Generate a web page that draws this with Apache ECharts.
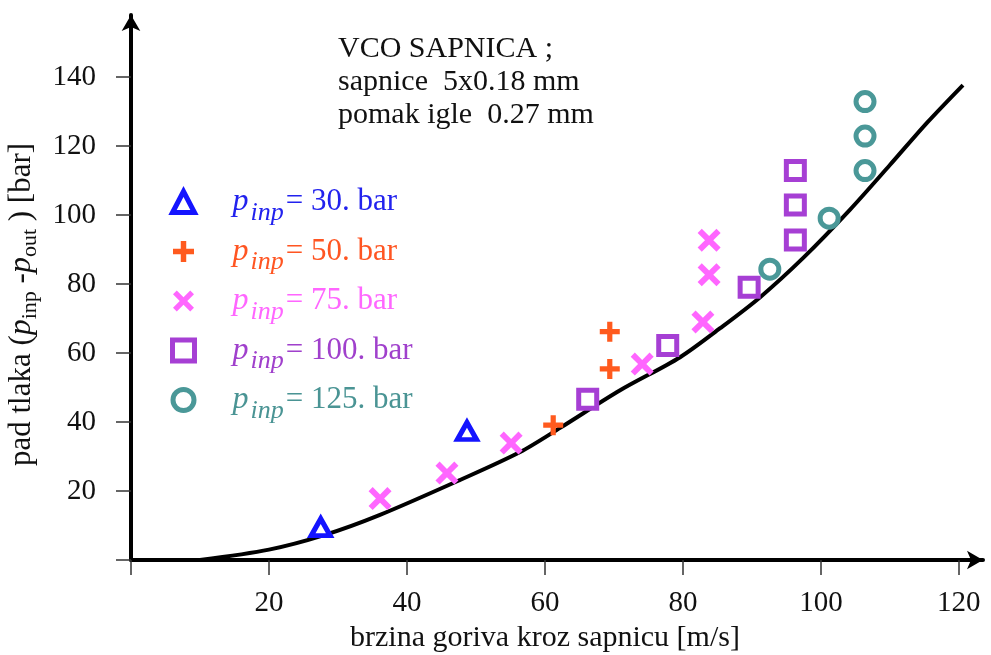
<!DOCTYPE html>
<html>
<head>
<meta charset="utf-8">
<script src="https://cdn.jsdelivr.net/npm/echarts@6/dist/echarts.min.js"></script>
<style>
html,body{margin:0;padding:0;background:#fff;}
#chart{width:991px;height:655px;}
</style>
</head>
<body>
<div id="chart"></div>
<script>
// ---- data ----
const xTickValues = [0, 20, 40, 60, 80, 100, 120];
const xLabelValues = [20, 40, 60, 80, 100, 120];
const yTickValues = [0, 20, 40, 60, 80, 100, 120, 140];
const yLabelValues = [20, 40, 60, 80, 100, 120, 140];

const seriesNames = ['30. bar', '50. bar', '75. bar', '100. bar', '125. bar'];
const p30 = [[27.5, 9.5], [48.7, 37.4]];
const p50 = [[61.2, 39.1], [69.4, 55.4], [69.4, 66.2]];
const p75 = [[36.1, 17.8], [45.8, 25.2], [55.1, 33.9], [74.1, 56.8], [82.9, 69.0], [83.8, 82.7], [83.8, 92.7]];
const p100 = [[66.2, 46.6], [77.8, 62.2], [89.6, 79.1], [96.3, 92.8], [96.3, 102.9], [96.3, 112.9]];
const p125 = [[92.6, 84.3], [101.2, 99.1], [106.4, 112.9], [106.4, 122.9], [106.4, 132.9]];
const curve = [[10, 0], [20, 3], [28, 7.2], [36, 13], [47.7, 23.2], [56.4, 31.3], [62.2, 38.3], [70.9, 49.2], [79.6, 58.8], [85.4, 67.2], [91.2, 76.2], [97.4, 87.5], [104.2, 101.5], [110, 114.5], [115.4, 126.8], [120.6, 137.7]];

const annotation = ['VCO SAPNICA ;', 'sapnice  5x0.18 mm', 'pomak igle  0.27 mm'];
const xTitle = 'brzina goriva kroz sapnicu [m/s]';

// ---- styles ----
const colors = ['#1414ff', '#ff5a1e', '#ff66ff', '#a63fd4', '#4a9898'];
const textColors = ['#2222ee', '#ff5522', '#ff66ff', '#a040cc', '#4a9494'];
const serif = '"Liberation Serif", "DejaVu Serif", serif';

const plusPath = 'path://M3.7,0h2.6v3.7h3.7v2.6h-3.7v3.7h-2.6v-3.7h-3.7v-2.6h3.7z';
const crossPath = 'path://M0,1.8L1.8,0L5,3.2L8.2,0L10,1.8L6.8,5L10,8.2L8.2,10L5,6.8L1.8,10L0,8.2L3.2,5Z';

const chart = echarts.init(document.getElementById('chart'));

function scatter(idx, data, symbol, size, hollow) {
  return {
    type: 'scatter',
    name: seriesNames[idx],
    data: data,
    symbol: symbol,
    symbolSize: size,
    itemStyle: hollow
      ? { color: '#ffffff', borderColor: colors[idx], borderWidth: 5, opacity: 1 }
      : { color: colors[idx], opacity: 1 },
    z: 3
  };
}

const legendRich = {
  sp: { width: 33 },
  p: { fontFamily: serif, fontSize: 32, fontStyle: 'italic' },
  sub: { fontFamily: serif, fontSize: 26, fontStyle: 'italic', padding: [22, 2, 0, 2] },
  t: { fontFamily: serif, fontSize: 31 }
};

const hollowIdx = [0, 3, 4];

const option = {
  animation: false,
  backgroundColor: '#ffffff',
  grid: { left: 131, right: 8, top: 15, bottom: 95, containLabel: false, outerBoundsMode: 'none' },
  xAxis: {
    type: 'value',
    min: 0,
    max: 123.5,
    interval: 20,
    splitLine: { show: false },
    axisLine: { show: true, onZero: false, lineStyle: { color: '#000', width: 4 }, symbol: ['none', 'arrow'], symbolSize: [14, 16] },
    axisTick: { show: true, length: 15, customValues: xTickValues, lineStyle: { color: '#333', width: 1.5 } },
    axisLabel: { customValues: xLabelValues, margin: 29, fontFamily: serif, fontSize: 29, color: '#111' },
    name: xTitle,
    nameLocation: 'middle',
    nameGap: 59,
    nameTextStyle: { fontFamily: serif, fontSize: 30, color: '#111', padding: [0, 24, 0, 0] }
  },
  yAxis: {
    type: 'value',
    min: 0,
    max: 158,
    interval: 20,
    splitLine: { show: false },
    axisLine: { show: true, onZero: false, lineStyle: { color: '#000', width: 4 }, symbol: ['none', 'arrow'], symbolSize: [14, 16] },
    axisTick: { show: true, length: 15, customValues: yTickValues, lineStyle: { color: '#333', width: 1.5 } },
    axisLabel: { customValues: yLabelValues, margin: 35, fontFamily: serif, fontSize: 29, color: '#111' },
    name: '{t|pad tlaka (}{p|p}{s|inp}{t| -}{p|p}{s|out}{t| ) [bar]}',
    nameLocation: 'middle',
    nameGap: 88,
    nameTextStyle: {
      color: '#111',
      padding: [0, 34, 0, 0],
      rich: {
        t: { fontFamily: serif, fontSize: 31, color: '#111' },
        p: { fontFamily: serif, fontSize: 32, fontStyle: 'italic', color: '#111' },
        s: { fontFamily: serif, fontSize: 22, color: '#111', padding: [18, 0, 0, 0] }
      }
    }
  },
  legend: {
    orient: 'vertical',
    left: 165,
    top: 181,
    itemWidth: 22,
    itemHeight: 21,
    itemGap: 9.5,
    formatter: function (name) {
      return '{sp|}{p|p}{sub|inp}{t|= ' + name + '}';
    },
    textStyle: { fontFamily: serif, fontSize: 31, rich: legendRich },
    data: seriesNames.map(function (n, i) {
      const d = { name: n, textStyle: { color: textColors[i] } };
      if (hollowIdx.indexOf(i) >= 0) {
        d.itemStyle = { color: '#ffffff', borderColor: colors[i], borderWidth: 5 };
      }
      return d;
    })
  },
  graphic: [
    {
      type: 'text',
      left: 338,
      top: 33,
      style: {
        text: annotation.join('\n'),
        fontFamily: serif,
        fontSize: 30,
        lineHeight: 33,
        fill: '#111'
      }
    }
  ],
  series: [
    {
      type: 'line',
      name: 'curve',
      data: curve,
      smooth: 0.3,
      showSymbol: false,
      lineStyle: { color: '#000', width: 4 },
      z: 2
    },
    scatter(0, p30, 'triangle', [19, 17], true),
    scatter(1, p50, plusPath, 20, false),
    scatter(2, p75, crossPath, 23, false),
    scatter(3, p100, 'rect', 18, true),
    scatter(4, p125, 'circle', 18, true)
  ]
};
chart.setOption(option);
</script>
</body>
</html>
